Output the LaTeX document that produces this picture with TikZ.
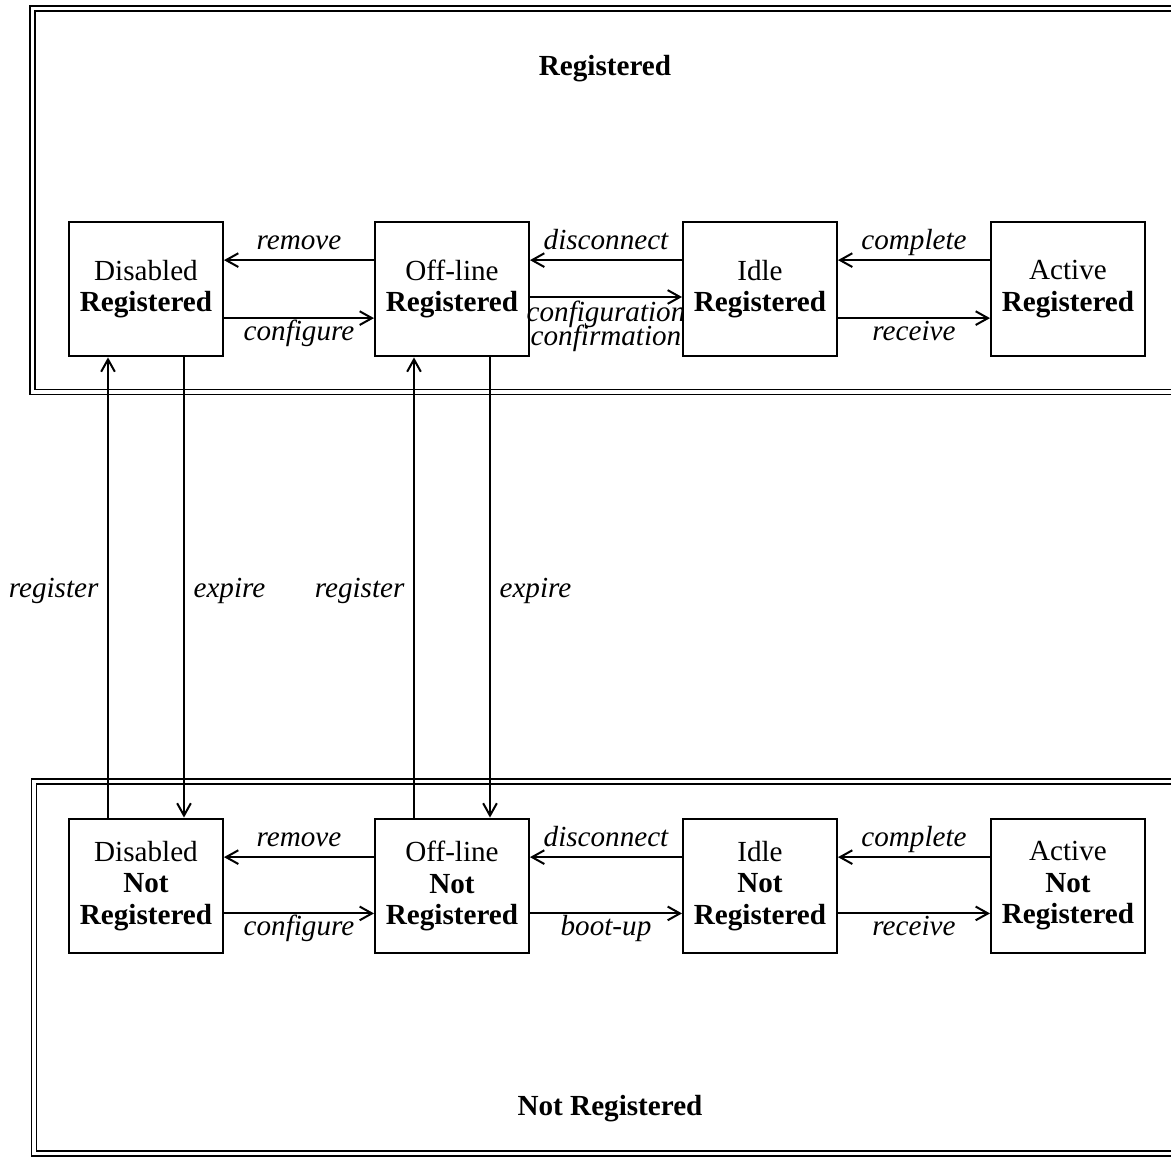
\documentclass[tikz,border=0pt]{standalone}
\usepackage{fontspec}
\setmainfont{Liberation Serif}
\usetikzlibrary{arrows.meta}

\begin{document}
\begin{tikzpicture}[x=0.35pt, y=-0.35pt,
  state/.style={draw, line width=0.7pt, minimum width=53.9pt,
                minimum height=47.2pt, align=center, inner sep=0pt,
                font=\fontsize{10.2}{11}\selectfont},
  lbl/.style={font=\fontsize{10.2}{11}\selectfont\itshape,
              text height=6.2pt, text depth=2.2pt, inner sep=1.3pt},
  trans/.style={line width=0.7pt, -{Straight Barb[length=4.3pt, width=4.8pt]}},
  regionframe/.style={double, double distance=1.1pt, line width=0.55pt}]

\useasboundingbox (0,0) rectangle (1171,1157);
\clip (0,0) rectangle (1171,1157);

%% the two regions
\draw[regionframe] (32.5,8.5) rectangle (1195,392);
\draw[regionframe] (34,781.5) rectangle (1195,1153.5);
\node[font=\fontsize{10.2}{11}\selectfont\bfseries] (regtitle) at (605,69) {Registered};
\node[font=\fontsize{10.2}{11}\selectfont\bfseries] (notregtitle) at (610,1109) {Not Registered};

%% TOP ROW -- registered states
\node[state] (dr) at (146,289) {Disabled\\\textbf{Registered}};
\node[state] (or) at (452,289) {Off-line\\\textbf{Registered}};
\node[state] (ir) at (760,289) {Idle\\\textbf{Registered}};
\node[state] (ar) at (1068,289) {Active\\\textbf{Registered}};

%% BOTTOM ROW -- not registered states
\node[state] (dn) at (146,886) {Disabled\\\textbf{Not}\\\textbf{Registered}};
\node[state] (on) at (452,886) {Off-line\\\textbf{Not}\\\textbf{Registered}};
\node[state] (in) at (760,886) {Idle\\\textbf{Not}\\\textbf{Registered}};
\node[state] (an) at (1068,886) {Active\\\textbf{Not}\\\textbf{Registered}};

%% transitions inside the registered region
\draw[trans] ([yshift=10.1pt]or.west) -- ([yshift=10.1pt]dr.east)
  node[midway, above, lbl] {remove};
\draw[trans] ([yshift=-10.2pt]dr.east) -- ([yshift=-10.2pt]or.west)
  node[midway, below, lbl] {configure};
\draw[trans] ([yshift=10.1pt]ir.west) -- ([yshift=10.1pt]or.east)
  node[midway, above, lbl] {disconnect};
\draw[trans] ([yshift=-2.8pt]or.east) -- ([yshift=-2.8pt]ir.west)
  node[midway, below, lbl, align=center, inner sep=1pt, text height=15.6pt,
       font={\fontsize{10.2}{8.2}\selectfont\lineskiplimit -6pt\relax\itshape}]
  {configuration\\confirmation};
\draw[trans] ([yshift=10.1pt]ar.west) -- ([yshift=10.1pt]ir.east)
  node[midway, above, lbl] {complete};
\draw[trans] ([yshift=-10.2pt]ir.east) -- ([yshift=-10.2pt]ar.west)
  node[midway, below, lbl] {receive};

%% transitions inside the not registered region
\draw[trans] ([yshift=10.1pt]on.west) -- ([yshift=10.1pt]dn.east)
  node[midway, above, lbl] {remove};
\draw[trans] ([yshift=-9.6pt]dn.east) -- ([yshift=-9.6pt]on.west)
  node[midway, below, lbl] {configure};
\draw[trans] ([yshift=10.1pt]in.west) -- ([yshift=10.1pt]on.east)
  node[midway, above, lbl] {disconnect};
\draw[trans] ([yshift=-9.6pt]on.east) -- ([yshift=-9.6pt]in.west)
  node[midway, below, lbl] {boot-up};
\draw[trans] ([yshift=10.1pt]an.west) -- ([yshift=10.1pt]in.east)
  node[midway, above, lbl] {complete};
\draw[trans] ([yshift=-9.6pt]in.east) -- ([yshift=-9.6pt]an.west)
  node[midway, below, lbl] {receive};

%% between the regions
\draw[trans] ([xshift=-13.3pt]dn.north) -- ([xshift=-13.3pt]dr.south)
  node[midway, left, lbl, inner sep=3pt, yshift=-1.5pt] {register};
\draw[trans] ([xshift=13.3pt]dr.south) -- ([xshift=13.3pt]dn.north)
  node[midway, right, lbl, inner sep=3pt, yshift=-1.5pt] {expire};
\draw[trans] ([xshift=-13.3pt]on.north) -- ([xshift=-13.3pt]or.south)
  node[midway, left, lbl, inner sep=3pt, yshift=-1.5pt] {register};
\draw[trans] ([xshift=13.3pt]or.south) -- ([xshift=13.3pt]on.north)
  node[midway, right, lbl, inner sep=3pt, yshift=-1.5pt] {expire};
\end{tikzpicture}
\end{document}
